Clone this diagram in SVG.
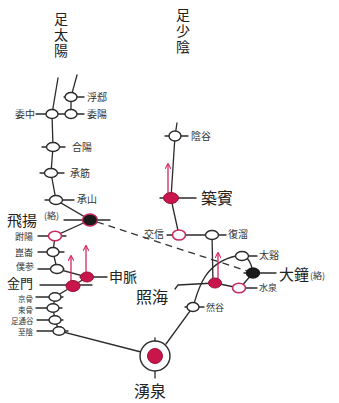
<svg xmlns="http://www.w3.org/2000/svg" width="339" height="403" viewBox="0 0 339 403">
<defs>
<style>
.ln{stroke:#2b2b2b;stroke-width:1.3;fill:none;stroke-linecap:round}
.pt{fill:#fff;stroke:#2b2b2b;stroke-width:1.4}
.rpt{fill:#fff;stroke:#c42a5c;stroke-width:1.6}
.red{fill:#c8164c;stroke:#9c1038;stroke-width:1}
.blk{fill:#1a1a1a;stroke:#c42a5c;stroke-width:1.4}
.arr{stroke:#d42565;stroke-width:1.3;fill:none;marker-end:url(#ah)}
.dash{stroke:#333;stroke-width:1.3;fill:none;stroke-dasharray:7 5}
text{font-family:"Noto Sans CJK JP","Noto Sans CJK SC",sans-serif;fill:#333}
.s{font-size:10px}
.xs{font-size:7.5px}
.b{font-size:15px;fill:#222}
.t{font-size:14px;fill:#222;writing-mode:vertical-rl;letter-spacing:2px}
</style>
<marker id="ah" viewBox="0 0 8 8" refX="7" refY="4" markerWidth="6" markerHeight="6" orient="auto" markerUnits="userSpaceOnUse">
<path d="M0,0 L8,4 L0,8" fill="none" stroke="#d42565" stroke-width="1.4"/>
</marker>
</defs>
<rect width="339" height="403" fill="#fff"/>

<g id="title-bladder">
<text class="t" x="61" y="12">足太陽</text>
</g>
<g id="title-kidney">
<text class="t" x="183" y="8">足少陰</text>
</g>

<g id="connectors">
<path class="ln" d="M58,78 L52,114 L53,147 L51,173 L56,200 L90,220 L55,236 L53,252 L57,269 L87,277 L73,286 L55,297 L53,308 L55,320 L59,331 L141,352"/>
<path class="ln" d="M77,75 L71,97 L71,114"/>
<path class="ln" d="M177,123 L175,136 L171,198 L173,208 L179,235 L212,235 L213,283"/>
<path class="ln" d="M166,344 L193,307 C198,290 204,263 236,256"/>
<path class="ln" d="M247,258 Q252,264 253,273 L240,288 M215,283 L239,288"/>
<path class="dash" d="M97,222 L247,271"/>
<path class="arr" d="M71,281 L71,256"/>
<path class="arr" d="M86,272 L86,246"/>
<path class="arr" d="M168,193 L168,164"/>
<path class="arr" d="M218,279 L218,253"/>
</g>

<g id="n-fuxi"><line class="ln" x1="64" y1="97" x2="84" y2="97"/><ellipse class="pt" cx="71" cy="97" rx="6" ry="4.5"/><text class="s" x="87" y="101">浮郄</text></g>
<g id="n-weizhong"><line class="ln" x1="36" y1="114" x2="84" y2="114"/><ellipse class="pt" cx="52" cy="114" rx="6" ry="4.5"/><text class="s" x="15" y="118">委中</text></g>
<g id="n-weiyang"><ellipse class="pt" cx="71" cy="114" rx="6" ry="4.5"/><text class="s" x="87" y="118">委陽</text></g>
<g id="n-heyang"><line class="ln" x1="42" y1="147" x2="65" y2="147"/><ellipse class="pt" cx="53" cy="147" rx="6.5" ry="4.5"/><text class="s" x="72" y="151">合陽</text></g>
<g id="n-chengjin"><line class="ln" x1="40" y1="173" x2="64" y2="173"/><ellipse class="pt" cx="51" cy="173" rx="6.5" ry="4.5"/><text class="s" x="70" y="177">承筋</text></g>
<g id="n-chengshan"><line class="ln" x1="45" y1="200" x2="74" y2="200"/><ellipse class="pt" cx="56" cy="200" rx="6.5" ry="4.5"/><text class="s" x="77" y="203">承山</text></g>
<g id="n-feiyang"><line class="ln" x1="64" y1="220" x2="110" y2="220"/><ellipse class="blk" cx="90" cy="220" rx="7.5" ry="6"/><text x="7" y="226" style="font-size:15px;fill:#222">飛揚</text><text x="44" y="219" style="font-size:9px">(絡)</text></g>
<g id="n-fuyang"><line class="ln" x1="38" y1="236" x2="66" y2="236"/><ellipse class="rpt" cx="55" cy="236" rx="6.5" ry="4.8"/><text class="s" x="15" y="240" style="font-size:9px">跗陽</text></g>
<g id="n-kunlun"><line class="ln" x1="38" y1="252" x2="64" y2="252"/><ellipse class="pt" cx="53" cy="252" rx="6" ry="4.5"/><text class="s" x="15" y="256" style="font-size:9px">崑崙</text></g>
<g id="n-pucan"><line class="ln" x1="38" y1="269" x2="64" y2="269"/><ellipse class="pt" cx="57" cy="269" rx="6.5" ry="4.5"/><text class="s" x="16" y="270" style="font-size:9px">僕参</text></g>
<g id="n-shenmai"><line class="ln" x1="80" y1="277" x2="107" y2="277"/><ellipse class="red" cx="87" cy="277" rx="6.5" ry="5"/><text class="b" x="109" y="282" style="font-size:14px">申脈</text></g>
<g id="n-jinmen"><line class="ln" x1="40" y1="285" x2="92" y2="285"/><ellipse class="red" cx="73" cy="286" rx="7" ry="5.5"/><text class="b" x="7" y="288" style="font-size:13px">金門</text></g>
<g id="n-jinggu"><line class="ln" x1="36" y1="297" x2="63" y2="297"/><ellipse class="pt" cx="55" cy="297" rx="6" ry="4.3"/><text class="xs" x="18" y="302">京骨</text></g>
<g id="n-shugu"><line class="ln" x1="36" y1="308" x2="62" y2="308"/><ellipse class="pt" cx="53" cy="308" rx="6" ry="4.3"/><text class="xs" x="18" y="313">束骨</text></g>
<g id="n-zutonggu"><line class="ln" x1="37" y1="320" x2="63" y2="320"/><ellipse class="pt" cx="55" cy="320" rx="6" ry="4.3"/><text class="xs" x="11" y="324">足通谷</text></g>
<g id="n-zhiyin"><line class="ln" x1="37" y1="331" x2="68" y2="331"/><ellipse class="pt" cx="59" cy="331" rx="6" ry="4.3"/><text class="xs" x="18" y="335">至陰</text></g>
<g id="n-yongquan"><line class="ln" x1="155" y1="338" x2="155" y2="378"/><circle class="pt" cx="155" cy="356" r="15"/><circle class="red" cx="155" cy="356" r="7.5"/><text class="b" x="134" y="397" style="font-size:16px">湧泉</text></g>

<g id="n-yingu"><line class="ln" x1="165" y1="136" x2="188" y2="136"/><ellipse class="pt" cx="175" cy="136" rx="6" ry="5"/><text class="s" x="191" y="140">陰谷</text></g>
<g id="n-zhubin"><line class="ln" x1="160" y1="198" x2="196" y2="198"/><ellipse class="red" cx="171" cy="198" rx="7.5" ry="5.5"/><text class="b" x="201" y="204" style="font-size:16px">築賓</text></g>
<g id="n-jiaoxin"><line class="ln" x1="167" y1="235" x2="179" y2="235"/><ellipse class="rpt" cx="179" cy="235" rx="6.5" ry="5"/><text class="s" x="144" y="238">交信</text></g>
<g id="n-fuliu"><line class="ln" x1="212" y1="235" x2="226" y2="235"/><ellipse class="pt" cx="212" cy="235" rx="6.5" ry="4.5"/><text class="s" x="228" y="238">復溜</text></g>
<g id="n-taixi"><line class="ln" x1="242" y1="256" x2="257" y2="256"/><ellipse class="pt" cx="242" cy="256" rx="6.5" ry="4.5"/><text class="s" x="259" y="259">太谿</text></g>
<g id="n-dazhong"><line class="ln" x1="244" y1="273" x2="276" y2="273"/><ellipse class="blk" cx="253" cy="273" rx="6.5" ry="5" style="stroke:#1a1a1a"/><text class="b" x="279" y="280">大鐘</text><text x="310" y="279" style="font-size:9px">(絡)</text></g>
<g id="n-shuiquan"><line class="ln" x1="245" y1="288" x2="257" y2="288"/><ellipse class="rpt" cx="239" cy="288" rx="6.5" ry="4.8"/><text class="s" x="259" y="291" style="font-size:9px">水泉</text></g>
<g id="n-zhaohai"><path class="ln" d="M215,283 L178,285 L175,289"/><ellipse class="red" cx="215" cy="283" rx="6.5" ry="5"/><text class="b" x="136" y="303" style="font-size:16px">照海</text></g>
<g id="n-rangu"><line class="ln" x1="185" y1="307" x2="204" y2="307"/><ellipse class="pt" cx="193" cy="307" rx="6" ry="4.5"/><text class="s" x="206" y="311" style="font-size:9px">然谷</text></g>
</svg>
